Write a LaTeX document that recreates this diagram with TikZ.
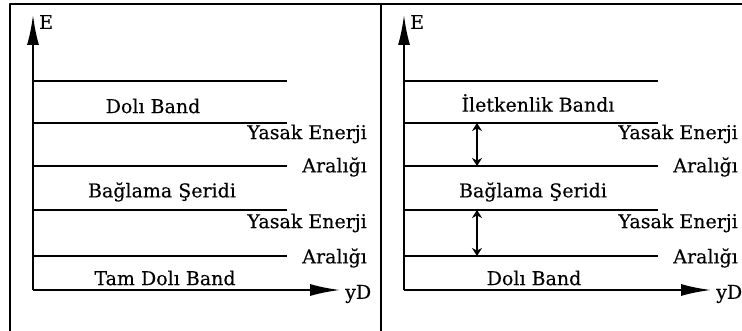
\documentclass[tikz,border=0pt]{standalone}
\usepackage{fontspec}
\setmainfont{DejaVu Serif}[FakeBold=0.3]
\usetikzlibrary{arrows.meta}
\tikzset{
  frame/.style={line width=2bp},
  band/.style={line width=1.5bp},
  axis/.style={line width=2bp,-{Latex[length=30bp,width=12bp]}},
  gap/.style={line width=1.3bp,{Stealth[length=8bp,width=10bp]}-{Stealth[length=8bp,width=10bp]}},
  lbl/.style={inner sep=0pt,font=\fontsize{19bp}{22bp}\selectfont},
}
\begin{document}
\begin{tikzpicture}[line join=bevel]
  \useasboundingbox (0bp,0bp) rectangle (742bp,331bp);
%%
  % Frame
  \draw [frame] (10bp,0bp) -- (10bp,327bp) -- (742bp,327bp);
  \draw [frame] (381bp,0bp) -- (381bp,327bp);
  % Panel: left
  \coordinate (O1) at (33bp,41bp);
  \coordinate (E1) at (33bp,316bp);
  \coordinate (D1) at (340bp,41bp);
  \draw [axis] (O1) -- (E1);
  \draw [axis] (O1) -- (D1);
  \node [lbl,anchor=west] (e1) at (39bp,309bp) {E};
  \node [lbl,anchor=west] (yd1) at (345bp,37bp) {yD};
  \draw [band] (33bp,250bp) -- (287bp,250bp);
  \draw [band] (33bp,208bp) -- (287bp,208bp);
  \draw [band] (33bp,165bp) -- (287bp,165bp);
  \draw [band] (33bp,121bp) -- (287bp,121bp);
  \draw [band] (33bp,75bp) -- (287bp,75bp);
  \node [lbl] (full1) at (153bp,225bp) {Dolı Band};
  \node [lbl,anchor=east] (gapA1) at (367bp,197bp) {Yasak Enerji};
  \node [lbl,anchor=east] (gapB1) at (367bp,164bp) {Aralığı};
  \node [lbl] (bond1) at (162bp,139bp) {Bağlama Şeridi};
  \node [lbl,anchor=east] (gapC1) at (367bp,108bp) {Yasak Enerji};
  \node [lbl,anchor=east] (gapD1) at (367bp,73bp) {Aralığı};
  \node [lbl] (low1) at (165bp,53bp) {Tam Dolı Band};
  % Panel: right
  \coordinate (O2) at (404bp,41bp);
  \coordinate (E2) at (404bp,316bp);
  \coordinate (D2) at (711bp,41bp);
  \draw [axis] (O2) -- (E2);
  \draw [axis] (O2) -- (D2);
  \node [lbl,anchor=west] (e2) at (410bp,309bp) {E};
  \node [lbl,anchor=west] (yd2) at (716bp,37bp) {yD};
  \draw [band] (404bp,250bp) -- (658bp,250bp);
  \draw [band] (404bp,208bp) coordinate (t1) -- (658bp,208bp);
  \draw [band] (404bp,165bp) coordinate (b1) -- (658bp,165bp);
  \draw [band] (404bp,121bp) coordinate (t2) -- (658bp,121bp);
  \draw [band] (404bp,75bp) coordinate (b2) -- (658bp,75bp);
  \node [lbl] (cond2) at (538bp,228bp) {İletkenlik Bandı};
  \node [lbl,anchor=east] (gapA2) at (738bp,197bp) {Yasak Enerji};
  \node [lbl,anchor=east] (gapB2) at (738bp,164bp) {Aralığı};
  \node [lbl] (bond2) at (533bp,139bp) {Bağlama Şeridi};
  \node [lbl,anchor=east] (gapC2) at (738bp,108bp) {Yasak Enerji};
  \node [lbl,anchor=east] (gapD2) at (738bp,73bp) {Aralığı};
  \node [lbl] (low2) at (534bp,53bp) {Dolı Band};
  % Edge: gap arrows
  \draw [gap] ([xshift=73bp]t1) -- ([xshift=73bp]b1);
  \draw [gap] ([xshift=73bp]t2) -- ([xshift=73bp]b2);
%
\end{tikzpicture}
\end{document}
